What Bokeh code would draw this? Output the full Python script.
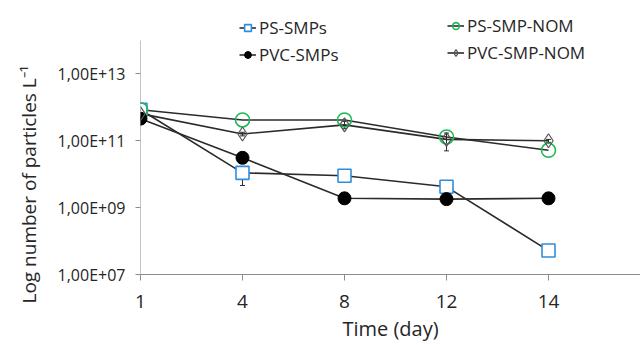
from bokeh.plotting import figure
from bokeh.models import (ColumnDataSource, FixedTicker, CustomJSTickFormatter, Legend,
                          LegendItem, Whisker, Range1d, Title)
from bokeh.embed import file_html
from bokeh.resources import INLINE

# ---- data ----
days = ["1", "4", "8", "12", "14"]
ps_smps = [8.5e11, 1.1e10, 9.0e9, 4.2e9, 5.2e7]
ps_smps_lo = [8.0e11, 4.6e9, 8.5e9, 3.4e9, 4.3e7]
ps_smps_hi = [9.0e11, 1.45e10, 9.5e9, 5.0e9, 6.2e7]
ps_nom = [8.5e11, 4.2e11, 4.2e11, 1.3e11, 5.2e10]
pvc_smps = [4.6e11, 3.1e10, 1.9e9, 1.8e9, 1.9e9]
pvc_smps_lo = [4.2e11, 2.9e10, 1.8e9, 1.5e9, 1.8e9]
pvc_smps_hi = [5.0e11, 3.3e10, 2.0e9, 2.1e9, 2.0e9]
pvc_nom = [6.5e11, 1.6e11, 3.0e11, 1.1e11, 1.0e11]
pvc_nom_lo = [6.0e11, 1.4e11, 2.3e11, 5.0e10, 9.0e10]
pvc_nom_hi = [7.0e11, 1.8e11, 3.8e11, 1.7e11, 1.1e11]
y_ticks = [1e7, 1e9, 1e11, 1e13]
y_min, y_max = 1e7, 1e14

x = list(range(len(days)))

W, H = 640, 344
FRAME_LEFT, FRAME_BOTTOM = 140, 274
DEC_PX = (FRAME_BOTTOM - 40) / 7.0
y_top = 10 ** (7 + FRAME_BOTTOM / DEC_PX)
x_end = (W - FRAME_LEFT) / 102.0

p = figure(width=W, height=H, output_backend="svg", toolbar_location=None,
           y_axis_type="log", x_range=Range1d(0, x_end), y_range=Range1d(y_min, y_top),
           min_border_left=FRAME_LEFT, min_border_right=0, min_border_top=0,
           min_border_bottom=H - FRAME_BOTTOM)
p.outline_line_color = None
p.xgrid.visible = False
p.ygrid.visible = False
p.background_fill_color = "white"

axis_col = "#8c8c8c"
txt_col = "#262626"
font = "Open Sans"

# axes
p.xaxis.ticker = FixedTicker(ticks=x)
p.xaxis.major_label_overrides = {i: d for i, d in zip(x, days)}
p.xaxis.minor_tick_line_color = None
p.xaxis.axis_line_color = axis_col
p.xaxis.major_tick_line_color = axis_col
p.xaxis.major_tick_in = 0
p.xaxis.major_tick_out = 6
p.xaxis.major_label_text_font = font
p.xaxis.major_label_text_font_size = "19px"
p.xaxis.major_label_text_line_height = 1.0
p.xaxis.major_label_text_color = txt_col
p.xaxis.major_label_standoff = 14
p.xaxis.axis_label = "Time (day)"
p.xaxis.axis_label_text_font = font
p.xaxis.axis_label_text_font_size = "20px"
p.xaxis.axis_label_text_line_height = 1.0
p.xaxis.axis_label_text_font_style = "normal"
p.xaxis.axis_label_text_color = txt_col
p.xaxis.axis_label_standoff = 4

p.yaxis.ticker = FixedTicker(ticks=y_ticks)
p.yaxis.formatter = CustomJSTickFormatter(code="""
const e = Math.round(Math.log10(tick));
return "1,00E+" + (e < 10 ? "0" + e : "" + e);
""")
p.yaxis.minor_tick_line_color = None
p.yaxis.axis_line_color = None
p.yaxis.major_tick_line_color = axis_col
p.yaxis.major_tick_in = 0
p.yaxis.major_tick_out = 5
p.yaxis.major_label_text_font = font
p.yaxis.major_label_text_font_size = "16px"
p.yaxis.major_label_text_color = txt_col
p.yaxis.major_label_standoff = 10

# y axis title in the left side panel
p.add_layout(Title(text="Log number of particles L⁻¹", align="left", offset=-29,
                   text_font=font, text_font_size="19px", text_font_style="normal",
                   text_color=txt_col, standoff=26), "left")

# visible y-axis line only over the axis span (1e7 .. 1e14)
p.segment(x0=[0], y0=[y_min], x1=[0], y1=[y_max], line_color=axis_col, line_width=1)

line_col = "#2b2b2b"
blue = "#2F8DDB"
green = "#1DB954"

series = [
    ("PS-SMPs", ps_smps, dict(marker="square", size=13, fill_color="white", line_color=blue, line_width=1.6)),
    ("PS-SMP-NOM", ps_nom, dict(marker="circle", size=14, fill_color=None, line_color=green, line_width=1.6)),
    ("PVC-SMPs", pvc_smps, dict(marker="circle", size=13, fill_color="black", line_color="black", line_width=1)),
    ("PVC-SMP-NOM", pvc_nom, dict(marker="diamond", size=14, fill_color=None, line_color="#555555", line_width=1.2)),
]

items = {}
for name, ys, mk in series:
    src = ColumnDataSource(dict(x=x, y=ys))
    lr = p.line("x", "y", source=src, line_color=line_col, line_width=1.6)
    items[name] = [lr]

for lo, hi in [(ps_smps_lo, ps_smps_hi), (pvc_smps_lo, pvc_smps_hi), (pvc_nom_lo, pvc_nom_hi)]:
    es = ColumnDataSource(dict(x=x, lo=lo, hi=hi))
    w = Whisker(base="x", lower="lo", upper="hi", source=es, line_color=line_col, line_width=1)
    w.upper_head.size = 5
    w.lower_head.size = 5
    w.upper_head.line_color = line_col
    w.lower_head.line_color = line_col
    p.add_layout(w)

for name, ys, mk in series:
    src = ColumnDataSource(dict(x=x, y=ys))
    sr = p.scatter("x", "y", source=src, **mk)
    items[name].append(sr)

def make_legend(names, loc):
    lg = Legend(items=[LegendItem(label=n, renderers=items[n]) for n in names],
                location=loc, orientation="vertical",
                padding=0, margin=0, spacing=0, glyph_width=17, glyph_height=27,
                label_standoff=3, border_line_color=None, background_fill_alpha=0,
                label_text_font=font, label_text_font_size="17px", label_text_color=txt_col,
                label_height=27)
    p.add_layout(lg, "center")
    return lg

make_legend(["PS-SMPs", "PVC-SMPs"], (99, 206))
make_legend(["PS-SMP-NOM", "PVC-SMP-NOM"], (307, 208))

open("out.html", "w").write(file_html(p, INLINE))
